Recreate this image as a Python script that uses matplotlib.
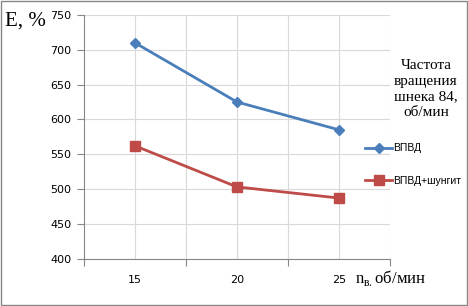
import matplotlib.pyplot as plt
import matplotlib.patches as patches

speed = [15, 20, 25]
vpvd = [710, 625, 585]
vpvd_shungit = [562, 503, 487]

fig = plt.figure(figsize=(4.68, 3.06), dpi=100)
ax = fig.add_axes([84/468, 1-258.6/306, (390-84)/468, (258.6-15)/306])

ax.plot(speed, vpvd, color='#4A7EBB', lw=2, marker='D', ms=5, label='ВПВД')
ax.plot(speed, vpvd_shungit, color='#BE4B48', lw=2, marker='s', ms=7, label='ВПВД+шунгит')

ax.set_xlim(12.5, 27.5)
ax.set_ylim(400, 750)
ax.set_xticks([12.5, 17.5, 22.5, 27.5])
ax.set_xticks([15, 20, 25], minor=True)
ax.set_xticklabels([])
ax.set_xticklabels(['15', '20', '25'], minor=True)
ax.set_yticks(range(400, 751, 50))
ax.tick_params(axis='x', which='major', length=5, color='#868686')
ax.tick_params(axis='x', which='minor', length=0, pad=12, labelsize=8)
ax.tick_params(axis='y', length=5, color='#868686', labelsize=8, pad=4)
for xv in [15, 17.5, 20, 22.5, 25, 27.5]:
    ax.axvline(xv, color='#D9D9D9', lw=0.8, zorder=0)
ax.grid(axis='y', color='#D9D9D9', lw=0.8, zorder=0)
ax.set_axisbelow(True)
for s in ['top', 'right']:
    ax.spines[s].set_visible(False)
for s in ['left', 'bottom']:
    ax.spines[s].set_color('#868686')
    ax.spines[s].set_linewidth(0.8)

leg = fig.legend(loc='upper left', bbox_to_anchor=(361/468, 1-139/306), frameon=False,
                 prop={'family': 'Liberation Sans', 'size': 7.5},
                 handlelength=2.6, handletextpad=0.1, labelspacing=2.2,
                 borderaxespad=0)

fig.text(5/468, 1-21/306, 'E, %', family='Liberation Serif', fontsize=15, va='center', ha='left')
fig.text(426/468, 1-89/306, 'Частота\nвращения\nшнека 84,\nоб/мин', family='Liberation Serif',
         fontsize=11, ha='center', va='center', linespacing=1.25)
fig.text(355/468, 1-278/306, r'n$_{\mathregular{в.}}$об/мин', family='Liberation Serif',
         fontsize=12, ha='left', va='center')

fig.patches.append(patches.Rectangle((0.003, 0.004), 0.994, 0.992, transform=fig.transFigure,
                                     fill=False, edgecolor='#868686', lw=1))

fig.savefig('out.png', dpi=100)
